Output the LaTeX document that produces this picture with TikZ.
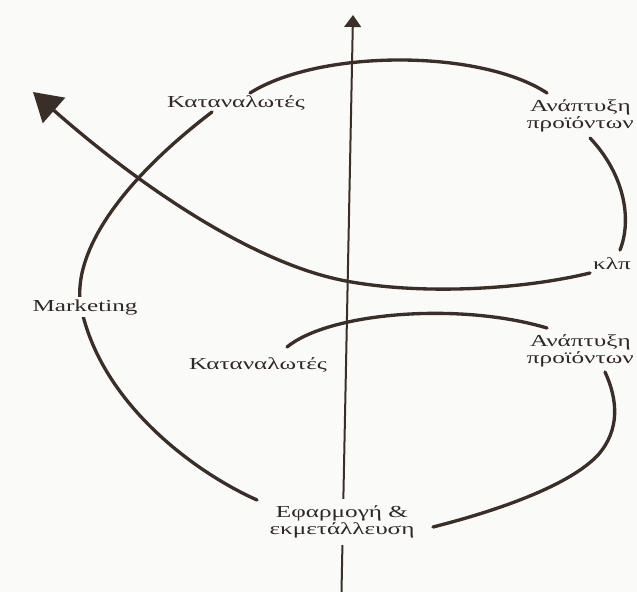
\documentclass[tikz,border=0pt]{standalone}
\usepackage{fontspec}
\setmainfont{Liberation Serif}[FakeStretch=1.5]
\usetikzlibrary{arrows.meta}
\definecolor{ink}{HTML}{3A2E29}
\definecolor{paper}{HTML}{FAFAF8}
\definecolor{txt}{HTML}{2E2826}
\begin{document}
\begin{tikzpicture}[x=0.75pt,y=-0.75pt,
  curve/.style={draw=ink, line width=2.5pt, line cap=round},
  axisline/.style={draw=ink, line width=1.5pt},
  lbl/.style={text=txt, font=\fontsize{12.6}{12.8}\selectfont, align=center, inner sep=1.5pt},
  gaplbl/.style={lbl, fill=paper}]
\fill[paper] (0,0) rectangle (637,592);
\useasboundingbox (0,0) rectangle (637,592);

% named end points
\coordinate (axb) at (341.5,592);
\coordinate (axt) at (353,15);
\coordinate (ta) at (250,93);
\coordinate (tb) at (547,93);
\coordinate (bs) at (590,273);
\coordinate (bm) at (346,281);
\coordinate (bt) at (33,92);
\coordinate (la) at (212,112);
\coordinate (lm) at (81,307);
\coordinate (lb) at (257,500);
\coordinate (wa) at (287,347);
\coordinate (wb) at (547,328);
\coordinate (ua) at (590,138);
\coordinate (ub) at (620,250);
\coordinate (ra) at (605,372);
\coordinate (rm) at (598,455);
\coordinate (rb) at (433,527);

% axis
\draw[axisline, -{Triangle[length=9pt,width=12.5pt]}] (axb) -- (axt);

% curves
\draw[curve] (ta) .. controls (320,49) and (480,49) .. (tb);
\draw[curve, -{Triangle[length=21pt,width=25pt]}] (bs) .. controls (520,290) and (420,295) .. (bm)
      .. controls (260,265) and (150,195) .. (bt);
\draw[curve] (la) .. controls (110,190) and (72,260) .. (lm)
      .. controls (100,400) and (190,470) .. (lb);
\draw[curve] (wa) .. controls (330,312) and (460,302) .. (wb);
\draw[curve] (ua) .. controls (625,175) and (632,220) .. (ub);
\draw[curve] (ra) .. controls (618,400) and (620,430) .. (rm)
      .. controls (570,485) and (500,510) .. (rb);

% labels
\node[lbl] (kt) at (236,103) {Καταναλωτές};
\node[lbl, anchor=north east] (at1) at (636,97) {Ανάπτυξη\\προϊόντων};
\node[lbl] (klp) at (612,264) {κλπ};
\node[gaplbl] (mk) at (85,307) {Marketing};
\node[lbl] (kl) at (258,365) {Καταναλωτές};
\node[lbl, anchor=north east] (at2) at (636,332) {Ανάπτυξη\\προϊόντων};
\node[gaplbl, inner sep=5pt] (ef) at (342,522) {Εφαρμογή \&\\εκμετάλλευση};
\end{tikzpicture}
\end{document}
